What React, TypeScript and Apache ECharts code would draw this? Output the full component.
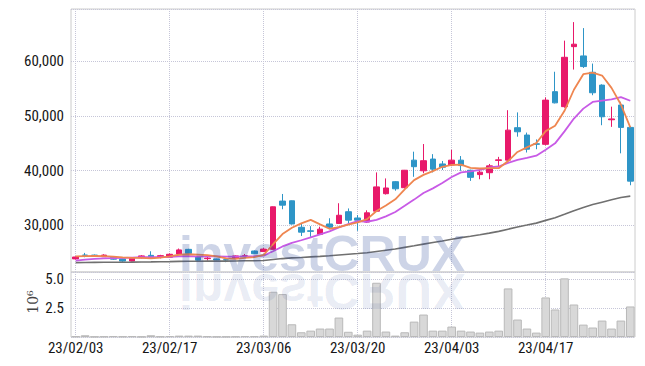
import React, { useEffect, useRef } from 'react';
import * as echarts from 'echarts';

const dates = [
  '23/02/03', '23/02/06', '23/02/07', '23/02/08', '23/02/09', '23/02/10', '23/02/13', '23/02/14', '23/02/15', '23/02/16',
  '23/02/17', '23/02/20', '23/02/21', '23/02/22', '23/02/23', '23/02/24', '23/02/27', '23/02/28', '23/03/02', '23/03/03',
  '23/03/06', '23/03/07', '23/03/08', '23/03/09', '23/03/10', '23/03/13', '23/03/14', '23/03/15', '23/03/16', '23/03/17',
  '23/03/20', '23/03/21', '23/03/22', '23/03/23', '23/03/24', '23/03/27', '23/03/28', '23/03/29', '23/03/30', '23/03/31',
  '23/04/03', '23/04/04', '23/04/05', '23/04/06', '23/04/07', '23/04/10', '23/04/11', '23/04/12', '23/04/13', '23/04/14',
  '23/04/17', '23/04/18', '23/04/19', '23/04/20', '23/04/21', '23/04/24', '23/04/25', '23/04/26', '23/04/27', '23/04/28',
];

const opens = [
  23800, 24500, 24500, 24200, 24100, 23800, 23400, 24000, 24450, 24150,
  24100, 24700, 25550, 24200, 23850, 23800, 23650, 23950, 24300, 25250,
  25150, 25550, 34400, 34450, 29600, 28950, 28300, 30200, 30300, 32450,
  31300, 30550, 32550, 35750, 37950, 36850, 41900, 39950, 42100, 41200,
  41000, 41900, 40050, 39250, 39600, 41850, 41900, 47850, 46500, 44900,
  44800, 54450, 51700, 62700, 61000, 58000, 55650, 49300, 52000, 47900,
];
const closes = [
  24150, 24450, 24300, 24500, 23750, 23400, 24000, 24350, 23950, 24400,
  24650, 25450, 24800, 23550, 23950, 23600, 23600, 24350, 24400, 24750,
  25600, 33350, 33650, 30200, 28700, 28850, 29250, 29600, 31800, 30900,
  30900, 32250, 37000, 36800, 36650, 40050, 40700, 41800, 40250, 40600,
  41900, 40900, 38750, 39700, 40850, 41950, 47400, 47100, 43900, 44800,
  52900, 52400, 60750, 63150, 59050, 54250, 49850, 49450, 47900, 38050,
];
const lows = [
  23700, 24100, 24250, 24150, 23650, 23250, 23300, 23900, 23850, 23900,
  24000, 24600, 24700, 23450, 23500, 23550, 23200, 23800, 24050, 24700,
  25050, 25500, 32900, 30100, 28000, 27850, 28200, 29400, 30200, 30300,
  28950, 30400, 32400, 35600, 36300, 36700, 38850, 39500, 39650, 40100,
  40800, 39950, 38100, 38400, 38400, 40800, 41700, 46200, 43300, 43900,
  44600, 52300, 51500, 58500, 58800, 53800, 48300, 48000, 43150, 37300,
];
const highs = [
  24250, 24900, 24600, 24650, 24200, 23850, 24050, 24500, 25200, 24550,
  24800, 25700, 25650, 24300, 24200, 23850, 23900, 24450, 24700, 25350,
  25800, 33400, 35700, 34500, 30300, 29800, 29700, 31250, 34000, 33050,
  31850, 32700, 39650, 38550, 38050, 40100, 43450, 44850, 43000, 41750,
  43800, 42650, 40150, 40200, 41200, 42500, 51050, 50650, 46950, 45700,
  53400, 58100, 63800, 67200, 66100, 59600, 55800, 51700, 52600, 48100,
];

const ma5 = [
  24250, 24300, 24350, 24300, 24230, 24080, 23990, 24000, 23890, 24020,
  24270, 24560, 24650, 24570, 24480, 24270, 23900, 23810, 23980, 24140,
  24540, 26490, 28350, 29510, 30300, 30950, 30130, 29320, 29640, 30080,
  30490, 31090, 32570, 33570, 34720, 36550, 38240, 39200, 39890, 40680,
  41050, 41090, 40480, 40370, 40420, 40430, 41730, 43400, 44240, 45030,
  47220, 48220, 50950, 54800, 57650, 57920, 57410, 55150, 52100, 47900,
];
const ma10 = [
  23500, 23650, 23800, 23900, 23950, 24000, 24050, 24100, 24100, 24125,
  24175, 24275, 24325, 24230, 24250, 24270, 24230, 24230, 24275, 24310,
  24405, 25195, 26080, 26745, 27220, 27745, 28310, 28835, 29575, 30190,
  30720, 30610, 30945, 31605, 32400, 33520, 34665, 35885, 36730, 37700,
  38800, 39665, 39840, 40130, 40550, 40740, 41410, 41940, 42305, 42725,
  43825, 44975, 47175, 49520, 51340, 52570, 52815, 53050, 53450, 52780,
];
const ma60 = [
  23120, 23140, 23160, 23180, 23190, 23200, 23210, 23240, 23250, 23270,
  23300, 23340, 23360, 23370, 23390, 23390, 23400, 23420, 23450, 23470,
  23510, 23690, 23860, 23980, 24070, 24170, 24270, 24380, 24520, 24650,
  24780, 24940, 25170, 25400, 25620, 25910, 26200, 26510, 26800, 27090,
  27400, 27700, 27960, 28240, 28530, 28850, 29250, 29650, 30000, 30360,
  30860, 31340, 31970, 32640, 33240, 33760, 34200, 34640, 35060, 35300,
];

// volume in millions of shares (axis unit 10^6)
const volumes = [
  0.06, 0.15, 0.03, 0.05, 0.08, 0.05, 0.07, 0.03, 0.15, 0.05,
  0.08, 0.12, 0.12, 0.12, 0.06, 0.03, 0.03, 0.05, 0.08, 0.07,
  0.12, 3.91, 3.71, 1.10, 0.41, 0.55, 0.73, 0.73, 1.68, 0.45,
  0.20, 0.55, 4.69, 0.47, 0.12, 0.41, 1.33, 1.94, 0.55, 0.55,
  0.90, 0.55, 0.47, 0.38, 0.47, 0.55, 4.20, 1.51, 0.73, 0.38,
  3.42, 2.38, 5.07, 2.81, 1.07, 0.82, 1.42, 0.73, 1.42, 2.64,
];

const LABEL_FONT = "'Liberation Sans Narrow', 'Roboto Condensed', 'DejaVu Sans Condensed', 'Liberation Sans', sans-serif";
const LABEL_COLOR = '#161616';
const UP = '#e8196a';
const DOWN = '#2e95c7';
const GRIDLINE = { type: 'dotted' as const, color: '#c6c6d8', width: 1 };

export default function App() {
  const ref = useRef<HTMLDivElement>(null);

  useEffect(() => {
    if (!ref.current) return;
    const chart = echarts.init(ref.current, null, { renderer: 'svg' });
    const candles = dates.map((_, i) => [opens[i], closes[i], lows[i], highs[i]]);

    chart.setOption({
      animation: false,
      backgroundColor: '#ffffff',
      grid: [
        { left: 71, right: 10, top: 9, height: 263, show: true, borderColor: '#cccccc', borderWidth: 1, backgroundColor: 'transparent' },
        { left: 71, right: 10, top: 272, height: 65, show: true, borderColor: '#cccccc', borderWidth: 1, backgroundColor: 'transparent' },
      ],
      xAxis: [
        {
          type: 'category', data: dates, gridIndex: 0, boundaryGap: true,
          axisLine: { show: false }, axisTick: { show: false }, axisLabel: { show: false },
          splitLine: { show: true, interval: 9, alignWithLabel: true, lineStyle: GRIDLINE },
        },
        {
          type: 'category', data: dates, gridIndex: 1, boundaryGap: true,
          axisLine: { show: false }, axisTick: { show: false },
          axisLabel: { show: true, interval: 9, fontSize: 15, color: LABEL_COLOR, fontFamily: LABEL_FONT, margin: 3 },
          splitLine: { show: true, interval: 9, alignWithLabel: true, lineStyle: GRIDLINE },
        },
      ],
      yAxis: [
        {
          type: 'value', gridIndex: 0, min: 21400, max: 69600, splitNumber: 5, scale: true,
          axisLine: { show: false }, axisTick: { show: false },
          axisLabel: {
            fontSize: 15, color: LABEL_COLOR, fontFamily: LABEL_FONT, margin: 7,
            showMinLabel: false, showMaxLabel: false,
            formatter: (v: number) => v.toLocaleString('en-US'),
          },
          splitLine: { show: true, lineStyle: GRIDLINE },
        },
        {
          type: 'value', gridIndex: 1, min: 0, max: 5.62, interval: 2.5,
          axisLine: { show: false }, axisTick: { show: false },
          axisLabel: {
            fontSize: 15, color: LABEL_COLOR, fontFamily: LABEL_FONT, margin: 7,
            showMinLabel: false, showMaxLabel: false,
            formatter: (v: number) => v.toFixed(1),
          },
          splitLine: { show: true, lineStyle: GRIDLINE },
        },
      ],
      graphic: [
        {
          type: 'text', x: 179, y: 272, z: 100,
          style: {
            text: 'investCRUX', x: 0, y: -18, verticalAlign: 'middle', align: 'left',
            fontSize: 50, fontWeight: 'bold', fontFamily: "'Liberation Sans', Arial, sans-serif",
            fill: 'rgba(40,70,150,0.23)',
          },
        },
        {
          type: 'text', x: 179, y: 273, scaleY: -1, z: 100,
          style: {
            text: 'investCRUX', x: 0, y: -18, verticalAlign: 'middle', align: 'left',
            fontSize: 50, fontWeight: 'bold', fontFamily: "'Liberation Sans', Arial, sans-serif",
            fill: 'rgba(40,70,150,0.11)',
          },
        },
        {
          type: 'text', x: 33, y: 302, rotation: Math.PI / 2,
          style: {
            text: '10⁶', align: 'center', verticalAlign: 'middle',
            fontSize: 14, fontFamily: "'DejaVu Serif', 'Liberation Serif', serif", fill: '#444',
          },
        },
      ],
      series: [
        {
          type: 'candlestick', xAxisIndex: 0, yAxisIndex: 0, data: candles, barWidth: '64%',
          itemStyle: { color: UP, color0: DOWN, borderColor: UP, borderColor0: DOWN, borderWidth: 1 },
        },
        {
          type: 'line', xAxisIndex: 0, yAxisIndex: 0, data: ma60, symbol: 'none',
          lineStyle: { color: '#707070', width: 1.6 },
        },
        {
          type: 'line', xAxisIndex: 0, yAxisIndex: 0, data: ma10, symbol: 'none',
          lineStyle: { color: '#c85ae6', width: 1.8 },
        },
        {
          type: 'line', xAxisIndex: 0, yAxisIndex: 0, data: ma5, symbol: 'none',
          lineStyle: { color: '#ef8650', width: 1.8 },
        },
        {
          type: 'bar', xAxisIndex: 1, yAxisIndex: 1, data: volumes, barCategoryGap: '8%',
          itemStyle: { color: '#d8d8d8', borderColor: '#b9b9b9', borderWidth: 1 },
        },
      ],
    });

    return () => chart.dispose();
  }, []);

  return (
    <div
      ref={ref}
      style={{ position: 'fixed', left: 0, top: 0, width: 645, height: 366, background: '#fff' }}
    />
  );
}
